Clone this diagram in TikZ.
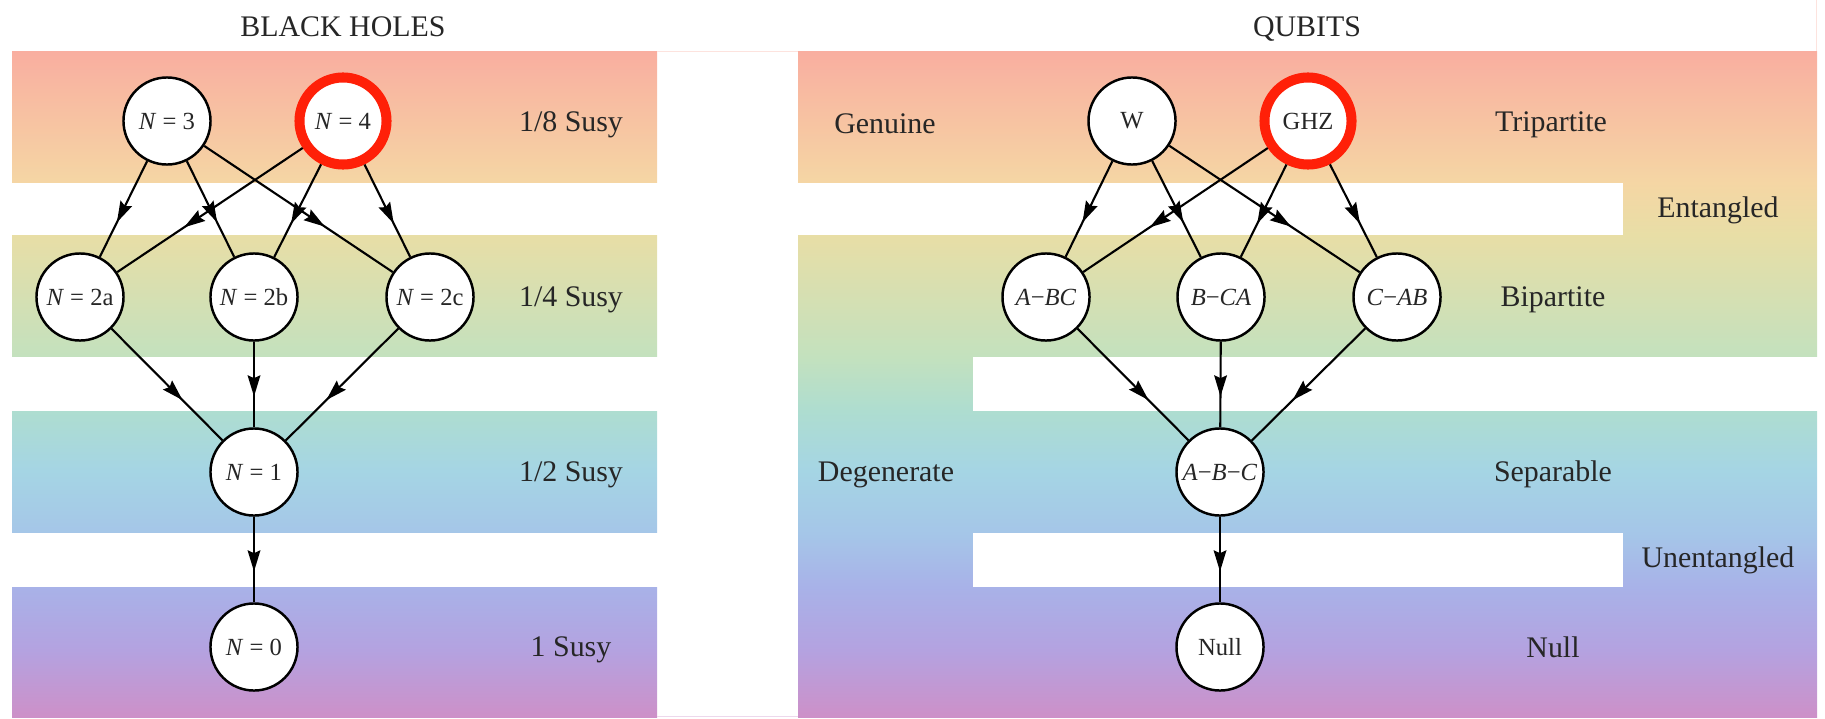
\documentclass[tikz,border=0pt]{standalone}
\usepackage{fontspec}
\setmainfont{Liberation Serif}
\usetikzlibrary{arrows.meta,decorations.markings}
\definecolor{s0}{RGB}{249,174,160}
\definecolor{s1}{RGB}{245,214,164}
\definecolor{s2}{RGB}{232,222,166}
\definecolor{s3}{RGB}{195,225,190}
\definecolor{s4}{RGB}{174,221,208}
\definecolor{s5}{RGB}{165,213,228}
\definecolor{s6}{RGB}{165,198,232}
\definecolor{s7}{RGB}{168,178,232}
\definecolor{s8}{RGB}{180,162,224}
\definecolor{s9}{RGB}{205,144,200}
\definecolor{hotred}{RGB}{255,32,8}
\pgfdeclareverticalshading{rainbow}{100bp}{color(0bp)=(s9); color(25bp)=(s9); color(30bp)=(s8); color(34.8bp)=(s7); color(38.8bp)=(s6); color(43.5bp)=(s5); color(48bp)=(s4); color(52bp)=(s3); color(61.2bp)=(s2); color(65.1bp)=(s1); color(75bp)=(s0); color(100bp)=(s0)}
\tikzset{
  state/.style={circle, draw=black, line width=0.7pt, fill=white, minimum size=0.87cm, inner sep=0pt, text=black!85, font=\fontsize{7}{8}\selectfont},
  hot/.style={state, draw=hotred, line width=2.85pt},
  lbl/.style={anchor=base, inner sep=0pt, text=black!85, font=\fontsize{8.5}{10}\selectfont},
  link/.style={line width=0.6pt, postaction={decorate}, decoration={markings, mark=at position 0.64 with {\arrow{Stealth[length=6pt,width=3.6pt,inset=0.8pt]}}}},
  gap/.style={fill=white}
}
\begin{document}
\begin{tikzpicture}[x=0.01cm,y=-0.01cm]
\useasboundingbox (0,0) rectangle (1825,718);
% backgrounds
\shade[shading=rainbow] (12,51) rectangle (657,717);
\shade[shading=rainbow] (798,51) rectangle (1817,717);
\fill[gap] (11,183) rectangle (658,235);
\fill[gap] (11,357) rectangle (658,411);
\fill[gap] (11,533) rectangle (658,587);
\fill[gap] (797,183) rectangle (1623,235);
\fill[gap] (973,357) rectangle (1818,411);
\fill[gap] (973,533) rectangle (1623,587);
\draw[line width=0.4pt, s0!35] (657,51.5) -- (798,51.5);
\draw[line width=0.4pt, s9!35] (657,716.5) -- (798,716.5);
\draw[line width=0.4pt, s0!35] (1816.5,0) -- (1816.5,51);
% titles
\node[lbl] (tbh) at (343,37) {BLACK HOLES};
\node[lbl] (tq) at (1307,37) {QUBITS};
% left labels
\node[lbl] (l1) at (571,131) {1/8 Susy};
\node[lbl] (l2) at (571,306) {1/4 Susy};
\node[lbl] (l3) at (571,481) {1/2 Susy};
\node[lbl] (l4) at (571,656) {1 Susy};
% right labels
\node[lbl] (rg) at (885,133) {Genuine};
\node[lbl] (rt) at (1551,131) {Tripartite};
\node[lbl] (re) at (1718,217) {Entangled};
\node[lbl] (rb) at (1553,306) {Bipartite};
\node[lbl] (rd) at (886,481) {Degenerate};
\node[lbl] (rs) at (1553,481) {Separable};
\node[lbl] (ru) at (1718,567) {Unentangled};
\node[lbl] (rn) at (1553,657) {Null};
% black hole nodes
\node[state] (n3) at (167,121) {\textit{N} = 3};
\node[hot] (n4) at (343,121) {\textit{N} = 4};
\node[state] (n2a) at (80,297) {\textit{N} = 2a};
\node[state] (n2b) at (254,297) {\textit{N} = 2b};
\node[state] (n2c) at (430,297) {\textit{N} = 2c};
\node[state] (n1) at (254,472) {\textit{N} = 1};
\node[state] (n0) at (254,647) {\textit{N} = 0};
% qubit nodes
\node[state] (w) at (1132,121) {W};
\node[hot] (ghz) at (1308,121) {GHZ};
\node[state] (abc) at (1046,297) {\textit{A}−\textit{BC}};
\node[state] (bca) at (1221,297) {\textit{B}−\textit{CA}};
\node[state] (cab) at (1397,297) {\textit{C}−\textit{AB}};
\node[state] (sep) at (1220,472) {\textit{A}−\textit{B}−\textit{C}};
\node[state] (null) at (1220,647) {Null};
% black hole edges
\draw[link] (n3) -- (n2a);
\draw[link] (n3) -- (n2b);
\draw[link] (n3) -- (n2c);
\draw[link] (n4) -- (n2a);
\draw[link] (n4) -- (n2b);
\draw[link] (n4) -- (n2c);
\draw[link] (n2a) -- (n1);
\draw[link] (n2b) -- (n1);
\draw[link] (n2c) -- (n1);
\draw[link] (n1) -- (n0);
% qubit edges
\draw[link] (w) -- (abc);
\draw[link] (w) -- (bca);
\draw[link] (w) -- (cab);
\draw[link] (ghz) -- (abc);
\draw[link] (ghz) -- (bca);
\draw[link] (ghz) -- (cab);
\draw[link] (abc) -- (sep);
\draw[link] (bca) -- (sep);
\draw[link] (cab) -- (sep);
\draw[link] (sep) -- (null);
\end{tikzpicture}
\end{document}
